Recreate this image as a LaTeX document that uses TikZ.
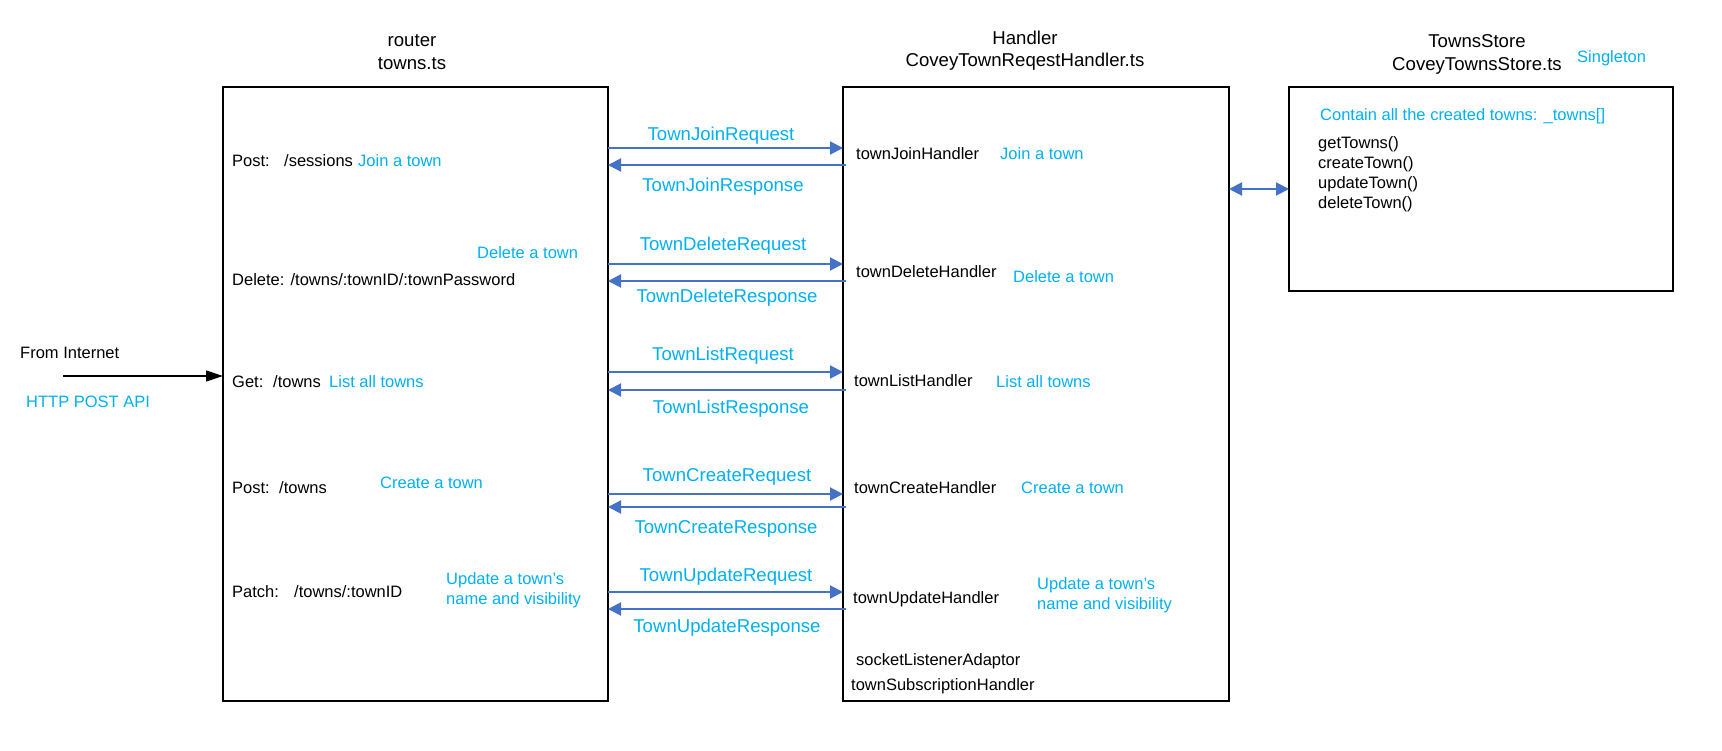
\documentclass[tikz,border=0pt]{standalone}
\usepackage{fontspec}
\setmainfont{Liberation Sans}
\usetikzlibrary{arrows.meta}
\definecolor{lblue}{HTML}{00B0F0}
\definecolor{abl}{HTML}{4472C4}
\begin{document}
\begin{tikzpicture}[x=1pt,y=-1pt,
  box/.style={draw=black,line width=1.5pt,minimum width=#1,inner sep=0,outer sep=0},
  txt/.style={anchor=base west,inner sep=0,font=\fontsize{16.5}{20}\selectfont},
  btxt/.style={txt,text=lblue},
  ttl/.style={anchor=base,inner sep=0,font=\fontsize{18.6}{22}\selectfont},
  msg/.style={anchor=base,inner sep=0,text=lblue,font=\fontsize{18.6}{22}\selectfont},
  flow/.style={draw=abl,line width=2pt,-{Triangle[length=13pt,width=13pt]}},
  both/.style={draw=abl,line width=2pt,{Triangle[length=13pt,width=13pt]}-{Triangle[length=13pt,width=13pt]}},
  inet/.style={draw=black,line width=1.4pt,-{Triangle[length=17pt,width=11pt]}}
]
\useasboundingbox (0,0) rectangle (1722,751);
% boxes
\node[box=385pt,minimum height=614pt] (router) at (415.5,394) {};
\node[box=386pt,minimum height=614pt] (handler) at (1036,394) {};
\node[box=384pt,minimum height=204pt] (store) at (1481,189) {};
% titles
\node[ttl] (rt1) at (412,47) {router};
\node[ttl] (rt2) at (412,70) {towns.ts};
\node[ttl] (ht1) at (1025,45) {Handler};
\node[ttl] (ht2) at (1025,67) {CoveyTownReqestHandler.ts};
\node[ttl] (st1) at (1477,48) {TownsStore};
\node[ttl] (st2) at (1477,71) {CoveyTownsStore.ts};
\node[btxt] (single) at (1577,63) {Singleton};
% router contents
\node[txt] (r1a) at (232,167) {Post:};
\node[txt] (r1b) at (284,167) {/sessions};
\node[btxt] (r1c) at (358,167) {Join a town};
\node[btxt] (r2c) at (477,259) {Delete a town};
\node[txt] (r2a) at (232,286) {Delete: /towns/:townID/:townPassword};
\node[txt] (r3a) at (232,387) {Get:};
\node[txt] (r3b) at (273,387) {/towns};
\node[btxt] (r3c) at (329,387) {List all towns};
\node[txt] (r4a) at (232,493) {Post:};
\node[txt] (r4b) at (279,493) {/towns};
\node[btxt] (r4c) at (380,488) {Create a town};
\node[txt] (r5a) at (232,597) {Patch:};
\node[txt] (r5b) at (294,597) {/towns/:townID};
\node[btxt] (r5c) at (446,584) {Update a town’s};
\node[btxt] (r5d) at (446,604) {name and visibility};
% handler contents
\node[txt] (h1a) at (856,160) {townJoinHandler};
\node[btxt] (h1b) at (1000,160) {Join a town};
\node[txt] (h2a) at (856,278) {townDeleteHandler};
\node[btxt] (h2b) at (1013,283) {Delete a town};
\node[txt] (h3a) at (854,386) {townListHandler};
\node[btxt] (h3b) at (996,388) {List all towns};
\node[txt] (h4a) at (854,493) {townCreateHandler};
\node[btxt] (h4b) at (1021,493) {Create a town};
\node[txt] (h5a) at (853,603) {townUpdateHandler};
\node[btxt] (h5b) at (1037,589) {Update a town’s};
\node[btxt] (h5c) at (1037,609) {name and visibility};
\node[txt] (h6) at (856,665) {socketListenerAdaptor};
\node[txt] (h7) at (851,690) {townSubscriptionHandler};
% store contents
\node[btxt] (s0) at (1320,121) {Contain all the created towns: \_towns[]};
\node[txt] (s1) at (1318,149) {getTowns()};
\node[txt] (s2) at (1318,169) {createTown()};
\node[txt] (s3) at (1318,189) {updateTown()};
\node[txt] (s4) at (1318,209) {deleteTown()};
% internet
\node[txt] (fi) at (20,359) {From Internet};
\node[btxt] (api) at (26,407) {HTTP POST API};
\coordinate (src) at (63,376);
\draw[inet] (src) -- (router.west |- src);
% message labels
\node[msg] (m1q) at (721,141) {TownJoinRequest};
\node[msg] (m1r) at (723,192) {TownJoinResponse};
\node[msg] (m2q) at (723,251) {TownDeleteRequest};
\node[msg] (m2r) at (727,303) {TownDeleteResponse};
\node[msg] (m3q) at (723,360) {TownListRequest};
\node[msg] (m3r) at (731,413) {TownListResponse};
\node[msg] (m4q) at (727,481) {TownCreateRequest};
\node[msg] (m4r) at (726,533) {TownCreateResponse};
\node[msg] (m5q) at (726,581) {TownUpdateRequest};
\node[msg] (m5r) at (727,632) {TownUpdateResponse};
% arrow levels
\coordinate (y1q) at (0,148); \coordinate (y1r) at (0,165);
\coordinate (y2q) at (0,264); \coordinate (y2r) at (0,281);
\coordinate (y3q) at (0,372); \coordinate (y3r) at (0,390);
\coordinate (y4q) at (0,494); \coordinate (y4r) at (0,507);
\coordinate (y5q) at (0,592); \coordinate (y5r) at (0,609);
\coordinate (ys) at (0,189);
\foreach \n in {1,...,5}{
  \draw[flow] (router.east |- y\n q) -- (handler.west |- y\n q);
  \draw[flow] ([xshift=3pt]handler.west |- y\n r) -- (router.east |- y\n r);
}
\draw[both] (handler.east |- ys) -- (store.west |- ys);
\end{tikzpicture}
\end{document}
